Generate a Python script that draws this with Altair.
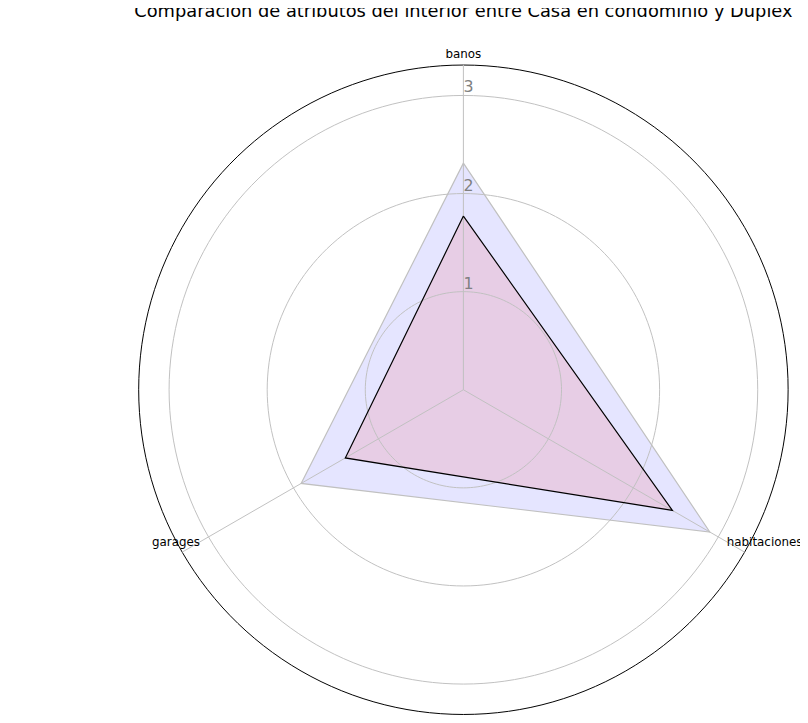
import math
import pandas as pd
import altair as alt

attributes = ["banos", "habitaciones", "garages"]
angles = [0, 120, 240]
label_align = ["center", "left", "right"]
casa = [2.31, 2.9, 1.91]
duplex = [1.77, 2.46, 1.39]
series = ["Casa en condominio", "Duplex"]
rings = [1, 2, 3]
r_max = 3.31

rows = []
for name, vals in zip(series, [casa, duplex]):
    for i, (a, v) in enumerate(zip(angles + [angles[0]], vals + [vals[0]])):
        rows.append({"serie": name, "ang": a, "val": v, "ord": i})
poly = pd.DataFrame(rows)

circ = []
for r in rings + [r_max]:
    for k, a in enumerate(range(0, 362, 2)):
        circ.append({"ring": r, "ang": a, "val": r, "ord": k, "outer": r == r_max})
circles = pd.DataFrame(circ)

spokes = pd.DataFrame({"ang": angles, "end": [r_max] * 3})

labs = pd.DataFrame({"attr": attributes, "ang": angles, "val": [3.42, 3.1, 3.1], "al": label_align})
ringlab = pd.DataFrame({"t": [str(r) for r in rings], "ang": [0] * 3, "val": rings})

sc = alt.Scale(domain=[-r_max, r_max])
X = alt.X("x:Q", scale=sc, axis=None)
Y = alt.Y("y:Q", scale=sc, axis=None)
xy = dict(x="datum.val*sin(datum.ang*PI/180)", y="datum.val*cos(datum.ang*PI/180)")

ring_lines = alt.Chart(circles).transform_calculate(**xy).mark_line(strokeWidth=1).encode(
    x=X, y=Y, order="ord:Q", detail="ring:N",
    color=alt.Color("outer:N", scale=alt.Scale(domain=[False, True], range=["#c0c0c0", "#000000"]), legend=None))

spoke_lines = alt.Chart(spokes).transform_calculate(
    x="datum.end*sin(datum.ang*PI/180)", y="datum.end*cos(datum.ang*PI/180)", x0="0", y0="0"
).mark_rule(color="#c0c0c0", strokeWidth=1).encode(x=X, y=Y, x2="x0:Q", y2="y0:Q")

fills = alt.Chart(poly).transform_calculate(**xy).mark_line(strokeOpacity=0, fillOpacity=0.1).encode(
    x=X, y=Y, order="ord:Q", detail="serie:N",
    fill=alt.Fill("serie:N", scale=alt.Scale(domain=series, range=["#0000ff", "#ff0000"]), legend=None))

lines = alt.Chart(poly).transform_calculate(**xy).mark_line(strokeWidth=1.2).encode(
    x=X, y=Y, order="ord:Q",
    color=alt.Color("serie:N", scale=alt.Scale(domain=series, range=["#1f77b4", "#ff7f0e"]),
                    legend=alt.Legend(title=None, orient="none", legendX=-126, legendY=596,
                                      symbolType="stroke", symbolStrokeWidth=1.2, labelFontSize=14,
                                      labelFont="DejaVu Sans", strokeColor="#cccccc", padding=8,
                                      cornerRadius=3, fillColor="white", symbolSize=300)))

attr_texts = [
    alt.Chart(labs).transform_filter(f"datum.al == '{al}'").transform_calculate(**xy)
    .mark_text(fontSize=12, font="DejaVu Sans", align=al).encode(x=X, y=Y, text="attr:N")
    for al in label_align
]

ring_text = alt.Chart(ringlab).transform_calculate(**xy).mark_text(
    fontSize=16, color="#808080", align="left", dy=-8, font="DejaVu Sans").encode(x=X, y=Y, text="t:N")

chart = alt.layer(fills, ring_lines, spoke_lines, lines, *attr_texts, ring_text).properties(
    width=656, height=656, autosize="none",
    padding={"left": 132, "top": 54, "right": 12, "bottom": 5},
    title=alt.Title("Comparación de atributos del interior entre Casa en condominio y Duplex",
                    fontSize=18, fontWeight="normal", font="DejaVu Sans", offset=28)
).configure_view(stroke=None)

chart.save("out.html", embed_options={"renderer": "svg", "actions": False})
